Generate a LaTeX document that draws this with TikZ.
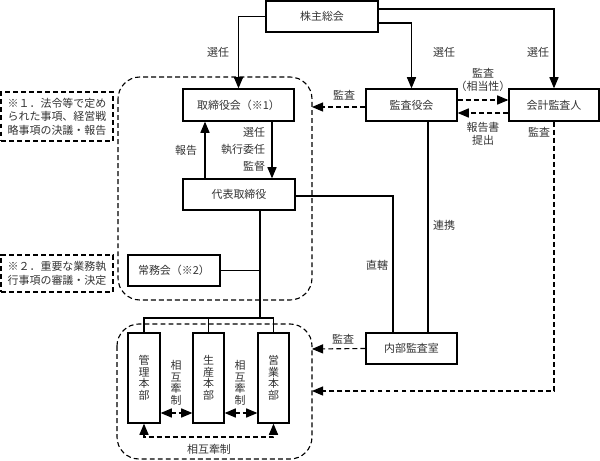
\documentclass[tikz,border=0pt]{standalone}
\usepackage{fontspec}
\setmainfont{Noto Sans CJK JP}
\usetikzlibrary{arrows}

\tikzset{
  box/.style={draw, line width=1pt, fill=white, inner sep=0pt, text=black!80},
  vbox/.style={box, minimum width=0.8cm, minimum height=2.25cm, align=center,
    font=\fontsize{7.8}{8.2}\selectfont},
  lbl/.style={text=black!80, inner sep=1pt, align=center},
  dsh/.style={dash pattern=on 3.5pt off 2.2pt},
  notebox/.style={draw, dsh, line width=1pt, inner sep=0pt, text=black!80, align=left,
    minimum width=2.8cm},
}

\begin{document}
\begin{tikzpicture}[x=0.025cm, y=-0.025cm, >=triangle 45, line width=0.8pt,
  font=\fontsize{7.8}{9.5}\selectfont]
\useasboundingbox (0,0) rectangle (600,461);

% dashed groups
\draw[dsh, rounded corners=0.55cm] (118,77) rectangle (312,300);
\draw[dsh, rounded corners=0.55cm] (117,324) rectangle (312,459);
\coordinate (r1a) at (312,107);
\coordinate (r2a) at (312,391);
\coordinate (r2b) at (312,349);

% boxes
\node[box, minimum width=2.8cm, minimum height=0.775cm] (soukai) at (322,16.5) {株主総会};
\node[box, minimum width=2.775cm, minimum height=0.8cm] (torishimari) at (238.5,105) {取締役会（※1）};
\node[box, minimum width=2.275cm, minimum height=0.8cm] (kansayaku) at (411.5,105) {監査役会};
\node[box, minimum width=2.25cm, minimum height=0.8cm] (kaikei) at (554,105) {会計監査人};
\node[box, minimum width=2.8cm, minimum height=0.775cm] (daihyo) at (239,194.5) {代表取締役};
\node[box, minimum width=2.3cm, minimum height=0.775cm] (jomu) at (174,270.5) {常務会（※2）};
\node[box, minimum width=2.275cm, minimum height=0.775cm] (naibu) at (411.5,348.5) {内部監査室};
\node[vbox] (kanri) at (144,378) {管\\理\\本\\部};
\node[vbox, minimum width=0.775cm] (seisan) at (208.5,378) {生\\産\\本\\部};
\node[vbox, minimum width=0.775cm] (eigyo) at (273.5,378) {営\\業\\本\\部};

% notes
\node[notebox, minimum height=1.225cm] (note1) at (57,116.5)
  {※１．法令等で定め\\られた事項、経営戦\\略事項の決議・報告};
\node[notebox, minimum height=0.925cm] (note2) at (57,273.5)
  {※２．重要な業務執\\行事項の審議・決定};

% appointment lines
\draw[->] (soukai.west) -| (torishimari.north);
\draw[->] (soukai.east |- 0,23) -| (kansayaku.north);
\draw[->] (soukai.east |- 0,9) -| (kaikei.north);
\node[lbl] (sen1) at (218,52) {選任};
\node[lbl] (sen2) at (444,52) {選任};
\node[lbl] (sen3) at (538,52) {選任};

% audit
\draw[->, dsh] (kansayaku.east |- 0,100) -- (kaikei.west |- 0,100);
\draw[->, dsh] (kaikei.west |- 0,113) -- (kansayaku.east |- 0,113);
\node[lbl] (kansa1) at (483,80) {監査\\（相当性）};
\node[lbl] (houkokusho) at (483,134) {報告書\\提出};
\draw[->, dsh] (kansayaku.west |- r1a) -- (r1a);
\node[lbl] (kansa2) at (344,95) {監査};
\draw[->, dsh] (kaikei.south) |- (r2a);
\node[lbl] (kansa3) at (539,132) {監査};

% board and representative
\draw[->] (torishimari.south -| 272,0) -- (daihyo.north -| 272,0);
\draw[->] (daihyo.north -| 205,0) -- (torishimari.south -| 205,0);
\node[lbl, anchor=east, align=right, font=\fontsize{7.8}{12}\selectfont] (shikkou) at (267,149)
  {選任\\執行委任\\監督};
\node[lbl] (houkoku) at (186,150) {報告};

% internal audit
\draw (daihyo.east |- 0,196) -| (naibu.north -| 393,0);
\draw (kansayaku.south -| 428,0) -- (naibu.north -| 428,0);
\node[lbl] (renkei) at (444,225) {連携};
\node[lbl] (chokkatsu) at (377,265) {直轄};
\draw[->, dsh] (naibu.west) -- (r2b);
\node[lbl] (kansa4) at (343,339) {監査};

% divisions
\coordinate (br) at (260,318);
\draw (daihyo.south -| br) -- (br);
\draw (jomu.east) -- (jomu.east -| br);
\draw (kanri.north) |- (eigyo.north |- br) -- (eigyo.north);
\draw (seisan.north) -- (seisan.north |- br);
\draw[<->, dsh] (kanri.east |- 0,413) -- (seisan.west |- 0,413);
\draw[<->, dsh] (seisan.east |- 0,413) -- (eigyo.west |- 0,413);
\draw[<->, dsh] (kanri.south) -- (kanri.south |- 0,437) -- (eigyo.south |- 0,437) -- (eigyo.south);
\node[lbl, font=\fontsize{7.8}{8.2}\selectfont] (sougo1) at (176,383) {相\\互\\牽\\制};
\node[lbl, font=\fontsize{7.8}{8.2}\selectfont] (sougo2) at (240,383) {相\\互\\牽\\制};
\node[lbl] (sougo3) at (209,449) {相互牽制};
\end{tikzpicture}
\end{document}
